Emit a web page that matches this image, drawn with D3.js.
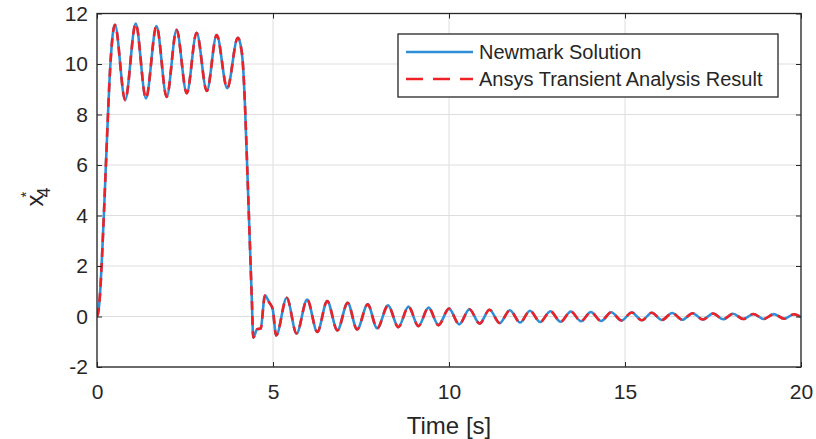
<!DOCTYPE html>
<html>
<head>
<meta charset="utf-8">
<script src="https://cdn.jsdelivr.net/npm/d3@7"></script>
<style>
  html, body { margin: 0; padding: 0; background: #fff; }
  svg { display: block; font-family: "Liberation Sans", Arial, sans-serif; }
</style>
</head>
<body>
<svg id="chart" width="816" height="439"></svg>
<script>
// ---- data ----
const timeValues = [
  0, 0.05, 0.1, 0.15, 0.2, 0.25, 0.3, 0.35, 0.4, 0.45, 0.51,
  0.80, 1.10, 1.39, 1.69, 1.98, 2.26, 2.55, 2.83, 3.12, 3.40, 3.70, 4.00,
  4.08, 4.14, 4.20, 4.27, 4.34, 4.40, 4.44, 4.55, 4.65, 4.77, 4.90, 4.99,
  5.09, 5.39, 5.67, 5.97, 6.26, 6.54, 6.83, 7.12, 7.39, 7.69, 7.96, 8.27,
  8.56, 8.85, 9.13, 9.42, 9.70, 10.00, 10.29, 10.58, 10.87, 11.15, 11.44,
  11.73, 12.02, 12.30, 12.59, 12.88, 13.17, 13.46, 13.75, 14.03, 14.32,
  14.61, 14.90, 15.19, 15.48, 15.76, 16.05, 16.34, 16.63, 16.92, 17.21,
  17.50, 17.79, 18.07, 18.36, 18.65, 18.94, 19.23, 19.52, 19.80, 20.00
];
const newmarkValues = [
  0, 0.3, 1.2, 2.6, 4.2, 5.9, 7.6, 9.2, 10.4, 11.2, 11.55,
  8.57, 11.6, 8.64, 11.5, 8.70, 11.35, 8.84, 11.24, 8.93, 11.15, 9.04, 11.04,
  10.75, 10.1, 8.5, 5.8, 3.0, 0.6, -0.84, -0.5, -0.48, 0.83, 0.54, 0.3,
  -0.75, 0.74, -0.67, 0.67, -0.61, 0.61, -0.55, 0.54, -0.51, 0.48, -0.47, 0.44,
  -0.42, 0.39, -0.38, 0.35, -0.34, 0.31, -0.31, 0.29, -0.28, 0.27, -0.26,
  0.25, -0.24, 0.23, -0.22, 0.21, -0.21, 0.20, -0.19, 0.18, -0.18,
  0.17, -0.16, 0.16, -0.15, 0.15, -0.14, 0.14, -0.13, 0.13, -0.12,
  0.12, -0.11, 0.11, -0.10, 0.10, -0.10, 0.095, -0.09, 0.09, -0.02
];
const ansysValues = [
  0, 0.3, 1.2, 2.6, 4.2, 5.9, 7.6, 9.2, 10.4, 11.2, 11.55,
  8.57, 11.6, 8.64, 11.5, 8.70, 11.35, 8.84, 11.24, 8.93, 11.15, 9.04, 11.04,
  10.75, 10.1, 8.5, 5.8, 3.0, 0.6, -0.84, -0.5, -0.48, 0.83, 0.54, 0.3,
  -0.75, 0.74, -0.67, 0.67, -0.61, 0.61, -0.55, 0.54, -0.51, 0.48, -0.47, 0.44,
  -0.42, 0.39, -0.38, 0.35, -0.34, 0.31, -0.31, 0.29, -0.28, 0.27, -0.26,
  0.25, -0.24, 0.23, -0.22, 0.21, -0.21, 0.20, -0.19, 0.18, -0.18,
  0.17, -0.16, 0.16, -0.15, 0.15, -0.14, 0.14, -0.13, 0.13, -0.12,
  0.12, -0.11, 0.11, -0.10, 0.10, -0.10, 0.095, -0.09, 0.09, -0.02
];
const xTicks = [0, 5, 10, 15, 20];
const yTicks = [-2, 0, 2, 4, 6, 8, 10, 12];
const seriesNames = ["Newmark Solution", "Ansys Transient Analysis Result"];
const xLabel = "Time [s]";

// ---- layout ----
const m = { left: 97, right: 801, top: 13.5, bottom: 367 };
const axisColor = "#262626";
const gridColor = "#dedede";
const blue = "#2f8fd6";
const red = "#ee2226";

const svg = d3.select("#chart");
const x = d3.scaleLinear().domain([0, 20]).range([m.left, m.right]);
const y = d3.scaleLinear().domain([-2, 12]).range([m.bottom, m.top]);

// grid
const grid = svg.append("g");
grid.selectAll("line.gx").data(xTicks).enter().append("line")
  .attr("x1", d => x(d)).attr("x2", d => x(d))
  .attr("y1", m.top).attr("y2", m.bottom)
  .attr("stroke", gridColor).attr("stroke-width", 1);
grid.selectAll("line.gy").data(yTicks).enter().append("line")
  .attr("x1", m.left).attr("x2", m.right)
  .attr("y1", d => y(d)).attr("y2", d => y(d))
  .attr("stroke", gridColor).attr("stroke-width", 1);

// clip
svg.append("clipPath").attr("id", "clip").append("rect")
  .attr("x", m.left).attr("y", m.top)
  .attr("width", m.right - m.left).attr("height", m.bottom - m.top);

const pts1 = timeValues.map((t, i) => [t, newmarkValues[i]]);
const pts2 = timeValues.map((t, i) => [t, ansysValues[i]]);
const line = d3.line().x(d => x(d[0])).y(d => y(d[1])).curve(d3.curveMonotoneX);

const plot = svg.append("g").attr("clip-path", "url(#clip)");
plot.append("path").attr("d", line(pts1))
  .attr("fill", "none").attr("stroke", blue).attr("stroke-width", 2.6)
  .attr("stroke-linejoin", "round");
plot.append("path").attr("d", line(pts2))
  .attr("fill", "none").attr("stroke", red).attr("stroke-width", 2.6)
  .attr("stroke-dasharray", "9,6");

// axes
const fs = 21;
const fmt = d => String(d);
const gx = svg.append("g").attr("transform", `translate(0,${m.bottom})`)
  .call(d3.axisBottom(x).tickValues(xTicks).tickSize(-5).tickPadding(17).tickFormat(fmt));
const gxt = svg.append("g").attr("transform", `translate(0,${m.top})`)
  .call(d3.axisTop(x).tickValues(xTicks).tickSize(-5).tickFormat(""));
const gy = svg.append("g").attr("transform", `translate(${m.left},0)`)
  .call(d3.axisLeft(y).tickValues(yTicks).tickSize(-5).tickPadding(9).tickFormat(fmt));
const gyr = svg.append("g").attr("transform", `translate(${m.right},0)`)
  .call(d3.axisRight(y).tickValues(yTicks).tickSize(-5).tickFormat(""));
[gx, gxt, gy, gyr].forEach(g => {
  g.select(".domain").remove();
  g.selectAll(".tick line").attr("stroke", axisColor);
  g.selectAll(".tick text").attr("fill", axisColor).attr("font-size", fs)
    .attr("font-family", "Liberation Sans, Arial, sans-serif");
});
// box
svg.append("rect").attr("x", m.left).attr("y", m.top)
  .attr("width", m.right - m.left).attr("height", m.bottom - m.top)
  .attr("fill", "none").attr("stroke", axisColor).attr("stroke-width", 1.3);

// axis labels
svg.append("text").attr("x", x(10)).attr("y", 434)
  .attr("text-anchor", "middle").attr("font-size", 24).attr("fill", axisColor)
  .text(xLabel);
const yl = svg.append("text")
  .attr("transform", "translate(43,197) rotate(-90)")
  .attr("text-anchor", "middle").attr("font-size", 24).attr("fill", axisColor);
yl.append("tspan").text("x");
yl.append("tspan").attr("font-size", 15).attr("dy", -12).attr("dx", -3).text("*");
yl.append("tspan").attr("font-size", 18).attr("dy", 19).attr("dx", -6).text("4");

// legend
const lg = svg.append("g");
lg.append("rect").attr("x", 398).attr("y", 34).attr("width", 380).attr("height", 63)
  .attr("fill", "#fff").attr("stroke", axisColor).attr("stroke-width", 1.3);
const rows = [
  { name: seriesNames[0], color: blue, dash: null, y: 52 },
  { name: seriesNames[1], color: red, dash: "17,10", y: 79 }
];
rows.forEach(r => {
  const l = lg.append("line").attr("x1", 406).attr("x2", 473)
    .attr("y1", r.y).attr("y2", r.y)
    .attr("stroke", r.color).attr("stroke-width", 2.4);
  if (r.dash) l.attr("stroke-dasharray", r.dash);
  lg.append("text").attr("x", 479).attr("y", r.y + 7)
    .attr("font-size", 20).attr("fill", axisColor).text(r.name);
});
</script>
</body>
</html>
